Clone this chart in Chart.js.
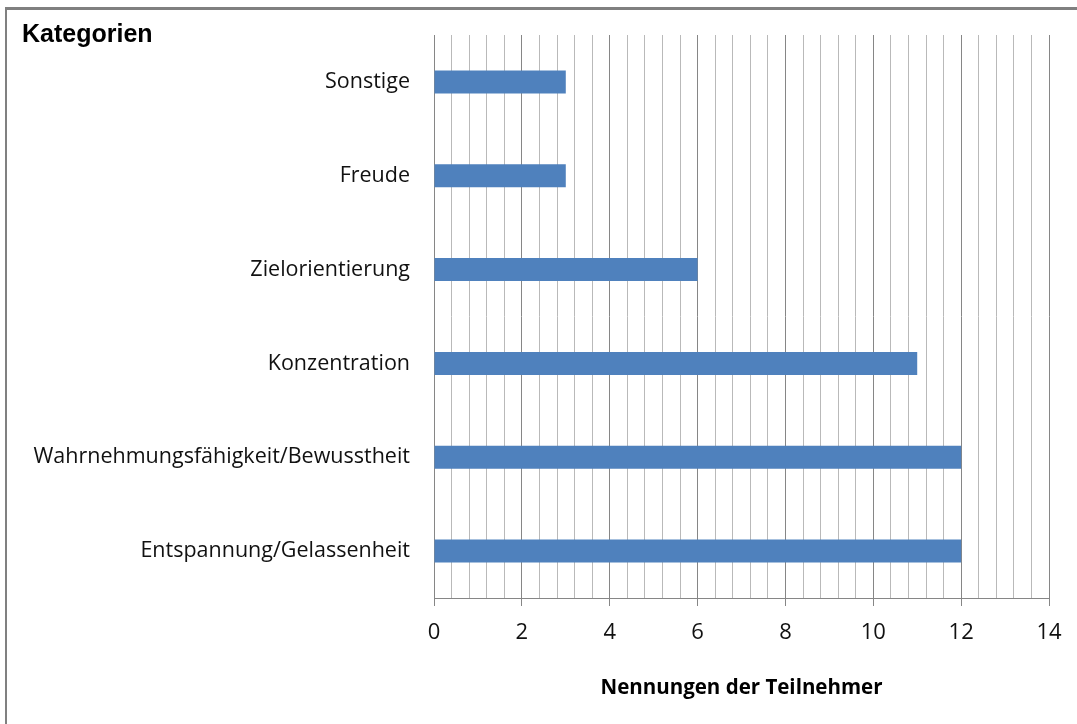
<!DOCTYPE html>
<html>
<head>
<meta charset="utf-8">
<script src="https://cdn.jsdelivr.net/npm/chart.js@4.4.0/dist/chart.umd.min.js"></script>
<style>
  html, body { margin: 0; padding: 0; background: #fff; }
  #wrap { position: relative; width: 1077px; height: 724px; overflow: hidden; }
  #frame {
    position: absolute; left: 5px; top: 7px; right: -10px; bottom: -10px;
    border-top: 3px solid #808080; border-left: 2px solid #808080;
  }
  #ylabel {
    position: absolute; left: 22px; top: 19px;
    font: bold 25px "Liberation Sans", Arial, sans-serif; line-height: 28px; color: #000;
  }
  canvas { position: absolute; left: 0; top: 0; }
</style>
</head>
<body>
<div id="wrap">
  <div id="frame"></div>
  <canvas id="chart" width="1077" height="724"></canvas>
  <div id="ylabel">Kategorien</div>
</div>
<script>
const categories = [
  "Sonstige",
  "Freude",
  "Zielorientierung",
  "Konzentration",
  "Wahrnehmungsfähigkeit/Bewusstheit",
  "Entspannung/Gelassenheit"
];
const mentions = [3, 3, 6, 11, 12, 12];
const xTickLabels = ["0", "2", "4", "6", "8", "10", "12", "14"];
const xTitle = "Nennungen der Teilnehmer";

const MAJOR = "#868686";
const MINOR = "#b9b9b9";

// major ticks come from the label list, minor lines every 0.4
const majorValues = xTickLabels.map(Number);
const isMajor = v => majorValues.some(m => Math.abs(m - v) < 1e-6);

const ctx = document.getElementById("chart").getContext("2d");
new Chart(ctx, {
  type: "bar",
  data: {
    labels: categories,
    datasets: [{
      label: "Nennungen",
      data: mentions,
      backgroundColor: "#4f81bd",
      borderWidth: 0,
      barPercentage: 0.245,
      categoryPercentage: 1
    }]
  },
  options: {
    indexAxis: "y",
    responsive: false,
    animation: false,
    layout: { padding: { top: 35, right: 28, left: 0, bottom: 0 } },
    plugins: {
      legend: { display: false },
      tooltip: { enabled: false }
    },
    scales: {
      x: {
        type: "linear",
        position: "bottom",
        min: 0,
        max: 14,
        afterBuildTicks: (scale) => {
          const ticks = [];
          for (let i = 0; i <= 35; i++) ticks.push({ value: Math.round(i * 4) / 10 });
          scale.ticks = ticks;
        },
        afterFit: (scale) => { scale.height = 126; },
        grid: {
          color: (c) => isMajor(c.tick.value) ? MAJOR : MINOR,
          tickColor: (c) => isMajor(c.tick.value) ? MAJOR : "rgba(0,0,0,0)",
          tickLength: 8,
          lineWidth: 1
        },
        border: { display: true, color: MAJOR, width: 1 },
        ticks: {
          autoSkip: false,
          maxRotation: 0,
          padding: 14,
          color: "#111",
          font: { family: "'Open Sans'", size: 22 },
          callback: (v) => isMajor(v) ? String(Math.round(v)) : ""
        },
        title: {
          display: true,
          text: xTitle,
          color: "#000",
          font: { family: "'Open Sans'", size: 20.5, weight: "bold" },
          padding: { top: 0, bottom: 24 }
        }
      },
      y: {
        afterFit: (scale) => { scale.width = 434; },
        grid: { display: false },
        border: { display: true, color: MAJOR, width: 1 },
        ticks: {
          padding: 16,
          color: "#111",
          font: { family: "'Open Sans'", size: 21.5 }
        }
      }
    }
  }
});
</script>
</body>
</html>
